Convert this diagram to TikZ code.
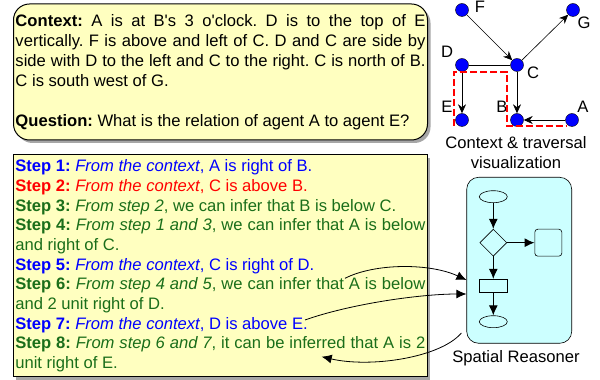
\documentclass[tikz,border=0pt]{standalone}
\usepackage{fontspec}
\setmainfont{Liberation Sans}
\usetikzlibrary{positioning, arrows.meta, calc, shapes.geometric, shadows}
\frenchspacing

\definecolor{stepblue}{RGB}{0,0,255}
\definecolor{stepred}{RGB}{255,0,0}
\definecolor{stepgreen}{RGB}{26,110,26}
\definecolor{notefill}{RGB}{255,255,192}
\definecolor{reasonfill}{RGB}{204,255,255}

\begin{document}
\begin{tikzpicture}[
    x=1pt, y=1pt,
    note box/.style={
        draw=black, line width=1pt, fill=notefill,
        text width=410pt, align=justify, inner xsep=2pt, inner ysep=0pt,
        font=\fontsize{16.6}{20}\selectfont,
        execute at begin node={\setlength{\parindent}{0pt}\frenchspacing},
        drop shadow={shadow xshift=3pt, shadow yshift=-3pt, fill=black!35, opacity=1}
    },
    agent/.style={circle, draw=black, fill=blue, minimum size=13pt, inner sep=0pt},
    tag/.style={font=\fontsize{16.6}{20}\selectfont, inner sep=0pt},
    link/.style={-{Stealth[length=9pt, width=8pt]}, semithick},
    trav/.style={red, line width=2pt, dash pattern=on 7pt off 3pt},
    caption text/.style={font=\fontsize{16.6}{20}\selectfont, align=center},
    reasoner/.style={draw=black, semithick, fill=reasonfill, rounded corners=12pt,
        minimum width=105pt, minimum height=166pt},
    flow/.style={draw=black, semithick, fill=reasonfill, inner sep=0pt},
    flow arrow/.style={-{Latex[length=10pt, width=9pt]}, line width=1pt},
    hint/.style={-{Latex[length=10pt, width=9pt]}, line width=0.8pt}
]

\path[use as bounding box] (0,0) rectangle (600,380);

% ------------------------------------------------------------------------------
% 1. CONTEXT AND STEPS
% ------------------------------------------------------------------------------
\node[note box, rounded corners=16pt, minimum height=136pt] (context) at (220.5,308) {%
\textbf{Context:} A is at B\textquotesingle s 3 o\textquotesingle clock. D is to the top of E\linebreak
vertically. F is above and left of C. D and C are side by\linebreak
side with D to the left and C to the right. C is north of B.\linebreak
C is south west of G.\par\vskip 20pt
\textbf{Question:} What is the relation of agent A to agent E?};

\node[note box, minimum height=221.7pt, font=\fontsize{16.6}{19.66}\selectfont] (steps) at (220.3,114.2) {%
{\color{stepblue}\textbf{Step 1:} \textit{From the context}, A is right of B.}\par
{\color{stepred}\textbf{Step 2:} \textit{From the context}, C is above B.}\par
{\color{stepgreen}\textbf{Step 3:} \textit{From step 2}, we can infer that B is below C.}\par
{\color{stepgreen}\textbf{Step 4:} \textit{From step 1 and 3}, we can infer that A is below\linebreak
and right of C.}\par
{\color{stepblue}\textbf{Step 5:} \textit{From the context}, C is right of D.}\par
{\color{stepgreen}\textbf{Step 6:} \textit{From step 4 and 5}, we can infer that A is below\linebreak
and 2 unit right of D.}\par
{\color{stepblue}\textbf{Step 7:} \textit{From the context}, D is above E.}\par
{\color{stepgreen}\textbf{Step 8:} \textit{From step 6 and 7}, it can be inferred that A is 2\linebreak
unit right of E.}};

% ------------------------------------------------------------------------------
% 2. GRAPH OF AGENTS
% ------------------------------------------------------------------------------
\begin{scope}[node distance=55pt, on grid]
\node[agent, label={[tag, xshift=16pt, yshift=-7.7pt]center:C}] (C) at (517,315) {};
\node[agent, left=of C, label={[tag, xshift=-15pt, yshift=13pt]center:D}] (D) {};
\node[agent, above left=55pt and 55pt of C, label={[tag, xshift=18pt, yshift=3.7pt]center:F}] (F) {};
\node[agent, above right=55pt and 56pt of C, label={[tag, xshift=11pt, yshift=-12.3pt]center:G}] (G) {};
\node[agent, below=of D, label={[tag, xshift=-15pt, yshift=13.7pt]center:E}] (E) {};
\node[agent, below=of C, label={[tag, xshift=-15pt, yshift=13.7pt]center:B}] (B) {};
\node[agent, right=of B, label={[tag, xshift=11pt, yshift=13.7pt]center:A}] (A) {};
\end{scope}

\draw[link] (F) -- (C);
\draw[link] (C) -- (G);
\draw[semithick] (D) -- (C);
\draw[link] (D) -- (E);
\draw[link] (C) -- (B);
\draw[link] (A) -- (B);

% traversal
\draw[trav] ($(E)+(-7.7,-6)$) |- ($(C)+(-10.3,-6.7)$) |- ($(A)+(-5.3,-6)$);

\node[caption text] (ctxcap) at (516,227) {Context \& traversal\\visualization};

% ------------------------------------------------------------------------------
% 3. SPATIAL REASONER
% ------------------------------------------------------------------------------
\node[reasoner] (reasoner) at (519.2,119.7) {};

\begin{scope}[on grid]
\node[flow, ellipse, minimum width=28pt, minimum height=12pt] (start) at (493.3,183.3) {};
\node[flow, diamond, minimum width=27pt, minimum height=27pt, below=46pt of start] (decide) {};
\node[flow, rounded corners=3pt, minimum width=27pt, minimum height=27pt, right=55pt of decide] (box) {};
\node[flow, minimum width=28pt, minimum height=13pt, below=43pt of decide] (act) {};
\node[flow, ellipse, minimum width=28pt, minimum height=12pt, below=36pt of act] (stop) {};
\end{scope}

\foreach \a/\b in {start/decide, decide/box, decide/act, act/stop} {
    \draw[flow arrow] (\a) -- (\b);
}

\node[caption text] (reasoncap) at (516,22) {Spatial Reasoner};

% hints between steps and reasoner
\coordinate (six) at (345,101.7);
\coordinate (seven) at (305,60);
\coordinate (eight) at (321.7,23.3);
\draw[hint] (six) .. controls (375,117) and (430,117) .. ([yshift=-19.7pt]reasoner.west);
\draw[hint] (seven) .. controls (350,76) and (420,86) .. ([yshift=-33.7pt]reasoner.west);
\draw[hint] ([xshift=-5pt, yshift=-72.7pt]reasoner.west) .. controls (440,22) and (370,12) .. (eight);

\end{tikzpicture}
\end{document}
